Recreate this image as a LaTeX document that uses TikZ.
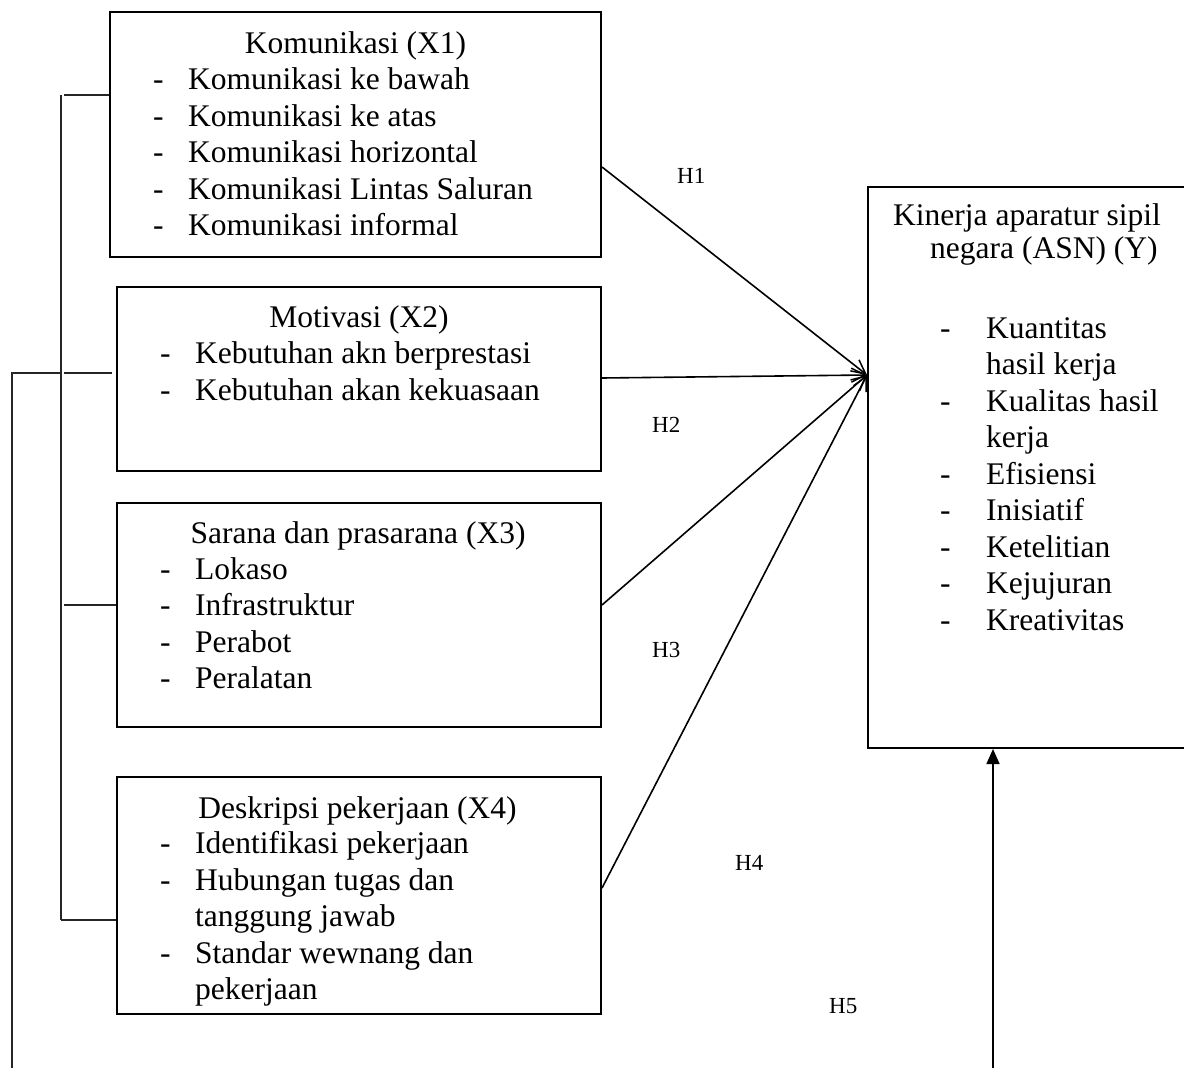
\documentclass[tikz,border=0pt]{standalone}
\usepackage{fontspec}
\setmainfont{Liberation Serif}
\usetikzlibrary{arrows.meta,calc}
\begin{document}
\begin{tikzpicture}[x=1pt,y=-1pt,
  box/.style={draw=black,line width=2pt,inner sep=0pt,rectangle},
  txt/.style={inner sep=0pt,anchor=base west,font=\fontsize{31.5}{36}\selectfont},
  ttl/.style={inner sep=0pt,anchor=base,font=\fontsize{31.5}{36}\selectfont},
  hyp/.style={inner sep=0pt,anchor=base west,font=\fontsize{23}{26}\selectfont},
  arr/.style={line width=1.6pt,-{Straight Barb[length=14pt,width=14pt,line width=1.5pt]}},
  brk/.style={line width=1.6pt,draw=black!85}]
\useasboundingbox (0,0) rectangle (1184,1068);
% boxes
\node[box,minimum width=491pt,minimum height=245pt] (x1) at (355.5,134.5) {};
\node[box,minimum width=484pt,minimum height=184pt] (x2) at (359,379) {};
\node[box,minimum width=484pt,minimum height=224pt] (x3) at (359,615) {};
\node[box,minimum width=484pt,minimum height=237pt] (x4) at (359,895.5) {};
\node[box,minimum width=342pt,minimum height=561pt] (yb) at (1039,467.5) {};
% box 1 text
\node[ttl] (t1) at (355.5,53) {Komunikasi (X1)};
\foreach \i/\s in {0/Komunikasi ke bawah,1/Komunikasi ke atas,2/Komunikasi horizontal,3/Komunikasi Lintas Saluran,4/Komunikasi informal}{
  \node[txt] (d1\i) at (153,89.5+36.6*\i) {-};
  \node[txt] (s1\i) at (188,89.5+36.6*\i) {\s};
}
% box 2 text
\node[ttl] (t2) at (359,327) {Motivasi (X2)};
\foreach \i/\s in {0/Kebutuhan akn berprestasi,1/Kebutuhan akan kekuasaan}{
  \node[txt] (d2\i) at (160,363.5+36.6*\i) {-};
  \node[txt] (s2\i) at (195,363.5+36.6*\i) {\s};
}
% box 3 text
\node[ttl] (t3) at (358,543) {Sarana dan prasarana (X3)};
\foreach \i/\s in {0/Lokaso,1/Infrastruktur,2/Perabot,3/Peralatan}{
  \node[txt] (d3\i) at (160,579+36.6*\i) {-};
  \node[txt] (s3\i) at (195,579+36.6*\i) {\s};
}
% box 4 text
\node[ttl] (t4) at (357.5,818) {Deskripsi pekerjaan (X4)};
\node[txt] (d40) at (160,853.5) {-};
\node[txt] (s40) at (195,853.5) {Identifikasi pekerjaan};
\node[txt] (d41) at (160,890) {-};
\node[txt] (s41) at (195,890) {Hubungan tugas dan};
\node[txt] (s42) at (195,926.5) {tanggung jawab};
\node[txt] (d43) at (160,963) {-};
\node[txt] (s43) at (195,963) {Standar wewnang dan};
\node[txt] (s44) at (195,999.5) {pekerjaan};
% Y box text
\node[txt] (ty1) at (893,225) {Kinerja aparatur sipil};
\node[txt] (ty2) at (930,258) {negara (ASN) (Y)};
\node[txt] (dy0) at (940,338) {-};
\node[txt] (sy0) at (986,338) {Kuantitas};
\node[txt] (sy1) at (986,374.5) {hasil kerja};
\node[txt] (dy2) at (940,411) {-};
\node[txt] (sy2) at (986,411) {Kualitas hasil};
\node[txt] (sy3) at (986,447.5) {kerja};
\foreach \i/\s in {4/Efisiensi,5/Inisiatif,6/Ketelitian,7/Kejujuran,8/Kreativitas}{
  \node[txt] (dy\i) at (940,338+36.5*\i) {-};
  \node[txt] (sy\i) at (986,338+36.5*\i) {\s};
}
% hypothesis labels
\node[hyp] (h1) at (677,183) {H1};
\node[hyp] (h2) at (652,432) {H2};
\node[hyp] (h3) at (652,657) {H3};
\node[hyp] (h4) at (735,870) {H4};
\node[hyp] (h5) at (829,1013) {H5};
% connectors
\coordinate (hub) at (yb.west |- 0,375);
\draw[arr] ($(x1.east)+(0,32.5)$) -- (hub);
\draw[arr] ($(x2.east)+(0,-1)$) -- (hub);
\draw[arr] ($(x3.east)+(0,-10)$) -- (hub);
\draw[arr] ($(x4.east)+(0,-7.5)$) -- (hub);
\coordinate (foot) at (993,1068);
\draw[line width=1.6pt,-{Triangle[length=15pt,width=13pt]}] (foot) -- (foot |- yb.south);
% left brackets
\coordinate (lbot) at (12,1068);
\coordinate (ltop) at (61,95);
\coordinate (lend) at (61,920);
\draw[brk] (lbot) -- (12,373) -- (60,373);
\draw[brk] (ltop) -- (lend);
\draw[brk] (64,95) -- (x1.west |- 0,95);
\draw[brk] (64,373) -- (112,373);
\draw[brk] (64,605) -- (x3.west |- 0,605);
\draw[brk] (lend) -- (x4.west |- 0,920);
\end{tikzpicture}
\end{document}
